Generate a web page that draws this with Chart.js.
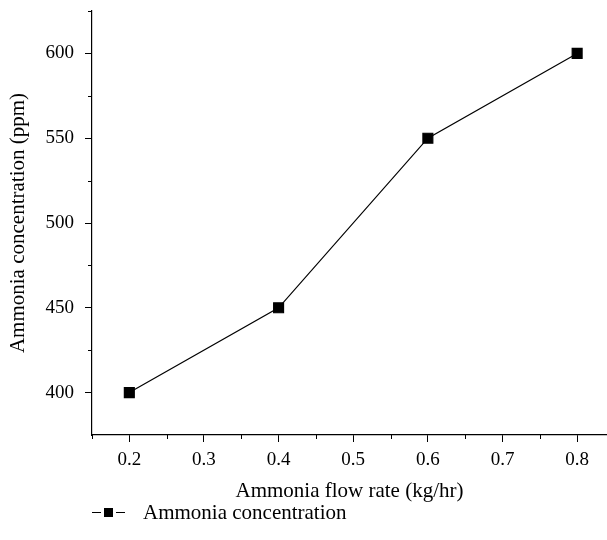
<!DOCTYPE html>
<html>
<head>
<meta charset="utf-8">
<script src="https://cdn.jsdelivr.net/npm/chart.js@4"></script>
<style>
  body { margin: 0; background: #fff; }
  #wrap { position: relative; width: 607px; height: 540px; }
  #legend {
    position: absolute; left: 92px; top: 500px;
    font-family: "Liberation Serif", "DejaVu Serif", serif;
    font-size: 21px; line-height: 24px; color: #000; display: flex; align-items: center;
  }
  .mk { position: relative; width: 34px; height: 9px; margin-right: 17px; }
  .mk .ln { position: absolute; top: 4px; height: 1.5px; background: #000; width: 9px; }
  .mk .sq { position: absolute; left: 12px; top: 0; width: 9px; height: 9px; background: #000; }
</style>
</head>
<body>
<div id="wrap">
  <canvas id="chart" width="607" height="540"></canvas>
  <div id="legend">
    <span class="mk"><span class="ln" style="left:0"></span><span class="sq"></span><span class="ln" style="left:24px"></span></span>
    <span>Ammonia concentration</span>
  </div>
</div>
<script>
// data
const flowRates = [0.2, 0.4, 0.6, 0.8];
const concentration = [400, 450, 550, 600];
const xMajorTicks = [0.2, 0.3, 0.4, 0.5, 0.6, 0.7, 0.8];
const xMinorTicks = [0.15, 0.25, 0.35, 0.45, 0.55, 0.65, 0.75];
const yMajorTicks = [400, 450, 500, 550, 600];
const yMinorTicks = [425, 475, 525, 575, 625];

const FONT = "'Liberation Serif', 'DejaVu Serif', serif";

// short minor tick marks outside the axes
const minorTicks = {
  id: "minorTicks",
  afterDraw(chart) {
    const ctx = chart.ctx;
    const xs = chart.scales.x;
    const ys = chart.scales.y;
    ctx.save();
    ctx.strokeStyle = "#000";
    ctx.lineWidth = 1;
    ctx.beginPath();
    xMinorTicks.forEach((v) => {
      const px = Math.round(xs.getPixelForValue(v)) + 0.5;
      ctx.moveTo(px, xs.top);
      ctx.lineTo(px, xs.top + 4);
    });
    yMinorTicks.forEach((v) => {
      const py = Math.round(ys.getPixelForValue(v)) + 0.5;
      ctx.moveTo(ys.right, py);
      ctx.lineTo(ys.right - 4, py);
    });
    ctx.stroke();
    ctx.restore();
  },
};

new Chart(document.getElementById("chart"), {
  type: "line",
  data: {
    datasets: [
      {
        label: "Ammonia concentration",
        data: flowRates.map((x, i) => ({ x, y: concentration[i] })),
        borderColor: "#000",
        backgroundColor: "#000",
        borderWidth: 1.2,
        pointStyle: "rect",
        pointRadius: 7,
        pointHoverRadius: 7,
        tension: 0,
      },
    ],
  },
  options: {
    responsive: false,
    animation: false,
    layout: { autoPadding: false, padding: { top: 11, right: 0, bottom: 36, left: 0 } },
    plugins: { legend: { display: false }, tooltip: { enabled: false } },
    scales: {
      x: {
        type: "linear",
        min: 0.15,
        max: 0.84,
        afterBuildTicks: (scale) => {
          scale.ticks = xMajorTicks.map((v) => ({ value: v }));
        },
        afterFit: (scale) => {
          scale.height = 69;
          scale.paddingLeft = 0;
          scale.paddingRight = 0;
        },
        border: { color: "#000", width: 1.2 },
        grid: { drawOnChartArea: false, tickLength: 7, color: "#000", tickColor: "#000" },
        ticks: {
          color: "#000",
          padding: 7,
          maxRotation: 0,
          font: { family: FONT, size: 19 },
          callback: (v) => v.toFixed(1),
        },
        title: {
          display: true,
          text: "Ammonia flow rate (kg/hr)",
          color: "#000",
          font: { family: FONT, size: 21 },
          padding: { top: 4, bottom: 0 },
        },
      },
      y: {
        min: 375,
        max: 625,
        afterBuildTicks: (scale) => {
          scale.ticks = yMajorTicks.map((v) => ({ value: v }));
        },
        afterFit: (scale) => {
          scale.width = 92;
          scale.paddingTop = 0;
          scale.paddingBottom = 0;
        },
        border: { color: "#000", width: 1.2 },
        grid: { drawOnChartArea: false, tickLength: 7, color: "#000", tickColor: "#000" },
        ticks: {
          color: "#000",
          padding: 11,
          font: { family: FONT, size: 19 },
        },
        title: {
          display: true,
          text: "Ammonia concentration (ppm)",
          color: "#000",
          font: { family: FONT, size: 21 },
          padding: { top: 6, bottom: 0 },
        },
      },
    },
  },
  plugins: [minorTicks],
});
</script>
</body>
</html>
